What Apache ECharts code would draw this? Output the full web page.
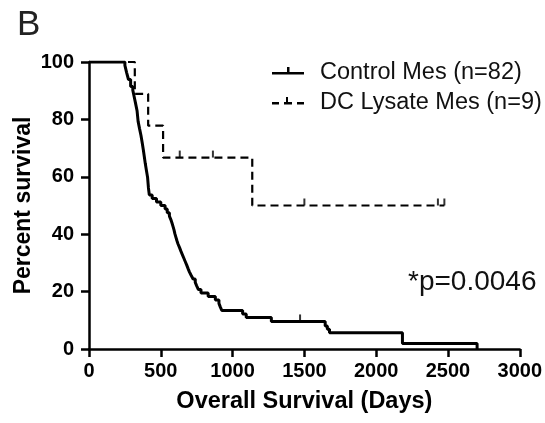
<!DOCTYPE html>
<html><head><meta charset="utf-8">
<script src="https://cdn.jsdelivr.net/npm/echarts@6/dist/echarts.min.js"></script>
<style>html,body{margin:0;padding:0;background:#fff}#c{width:545px;height:423px}</style>
</head><body><div id="c"></div>
<script>
// Kaplan-Meier steps: [day, percent surviving]
const controlSteps = [[0,100],[250,98.8],[262,96.3],[275,93.9],[290,91.5],[305,90.2],[315,87.8],[325,85.4],[335,82.9],[342,79.3],[352,76.8],[362,74.4],[370,72.0],[378,69.5],[385,67.1],[392,64.6],[400,62.2],[408,59.8],[414,56.1],[420,53.7],[440,52.4],[470,51.2],[500,50.0],[530,48.8],[545,47.5],[560,46.3],[570,45.1],[578,43.9],[585,42.7],[592,41.5],[598,40.2],[605,39.0],[612,37.8],[620,36.6],[630,35.4],[640,34.1],[650,32.9],[660,31.7],[670,30.5],[680,29.3],[690,28.0],[700,26.8],[712,25.6],[725,24.4],[740,23.2],[750,22.0],[762,20.7],[780,19.5],[830,18.3],[880,17.1],[905,15.9],[915,14.6],[925,13.4],[1070,12.2],[1095,11.0],[1270,9.6],[1645,8.0],[1660,6.9],[1675,5.7],[2183,1.9],[2703,0]];
const controlCensored = [[1470,9.6]];
const dcSteps = [[0,100],[319,88.9],[412,77.8],[516,66.7],[1137,50],[2475,50]];
const dcCensored = [[632,66.7],[863,66.7],[1500,50],[2430,50],[2475,50]];
const seriesNames = ['Control Mes (n=82)','DC Lysate Mes (n=9)'];
const xTicks = {min:0,max:3000,interval:500};
const yTicks = {min:0,max:100,interval:20};
const pText = '*p=0.0046';
const panelLabel = 'B';

const FONT = '"Liberation Sans", Arial, sans-serif';
const chart = echarts.init(document.getElementById('c'), null, {renderer:'canvas'});
const censorSym = {symbol:'rect', symbolSize:[2,7], symbolOffset:[0,-3.5]};
chart.setOption({
  animation:false,
  backgroundColor:'#fff',
  grid:{left:89, top:62, right:24, bottom:74},
  title:[
    {text:panelLabel, left:17, top:8, padding:0, textStyle:{fontFamily:FONT, fontSize:35, fontWeight:'normal', color:'#222'}},
    {text:pText, left:408, top:268, padding:0, textStyle:{fontFamily:FONT, fontSize:28, fontWeight:'normal', color:'#111'}}
  ],
  legend:{
    data:[
      {name:seriesNames[0], icon:'path://M0,5h32v2.6h-32z M15,0h2.5v6h-2.5z M0,11.9h0.05v0.1h-0.05z'},
      {name:seriesNames[1], icon:'path://M0,5h7v2.4h-7z M12,5h8v2.4h-8z M25,5h7v2.4h-7z M14,0h2v6h-2z M0,11.9h0.05v0.1h-0.05z'}
    ],
    orient:'vertical', left:272, top:61, padding:0, itemWidth:32, itemHeight:12, itemGap:6,
    textStyle:{fontFamily:FONT, fontSize:23.5, lineHeight:23, color:'#111', padding:[0,0,0,11]}
  },
  xAxis:{
    type:'value', min:xTicks.min, max:xTicks.max, interval:xTicks.interval,
    name:'Overall Survival (Days)', nameLocation:'middle', nameGap:41, nameMoveOverlap:false,
    nameTextStyle:{fontFamily:FONT, fontSize:23.5, fontWeight:'bold', color:'#000'},
    axisLine:{show:true, lineStyle:{color:'#000', width:2.5}},
    axisTick:{show:true, length:8, lineStyle:{color:'#000', width:2.5}},
    axisLabel:{fontFamily:FONT, fontSize:20, fontWeight:'bold', color:'#000', margin:12, formatter:v=>String(v)},
    splitLine:{show:false}
  },
  yAxis:{
    type:'value', min:yTicks.min, max:yTicks.max, interval:yTicks.interval,
    name:'Percent survival', nameLocation:'middle', nameGap:54, nameMoveOverlap:false,
    nameTextStyle:{fontFamily:FONT, fontSize:23, fontWeight:'bold', color:'#000'},
    axisLine:{show:true, lineStyle:{color:'#000', width:2.5}},
    axisTick:{show:true, length:8, lineStyle:{color:'#000', width:2.5}},
    axisLabel:{fontFamily:FONT, fontSize:20, fontWeight:'bold', color:'#000', margin:15},
    splitLine:{show:false}
  },
  series:[
    {name:seriesNames[0], type:'line', step:'end', data:controlSteps, showSymbol:false, symbol:'none',
     lineStyle:{color:'#000', width:3}, itemStyle:{color:'#000'}, z:3},
    {name:seriesNames[1], type:'line', step:'end', data:dcSteps, showSymbol:false, symbol:'none',
     lineStyle:{color:'#000', width:2.2, type:[8,5]}, itemStyle:{color:'#000'}, z:3},
    Object.assign({name:'c0', type:'scatter', data:controlCensored, itemStyle:{color:'#000'}, z:4}, censorSym),
    Object.assign({name:'c1', type:'scatter', data:dcCensored, itemStyle:{color:'#000'}, z:4}, censorSym)
  ]
});
</script></body></html>
